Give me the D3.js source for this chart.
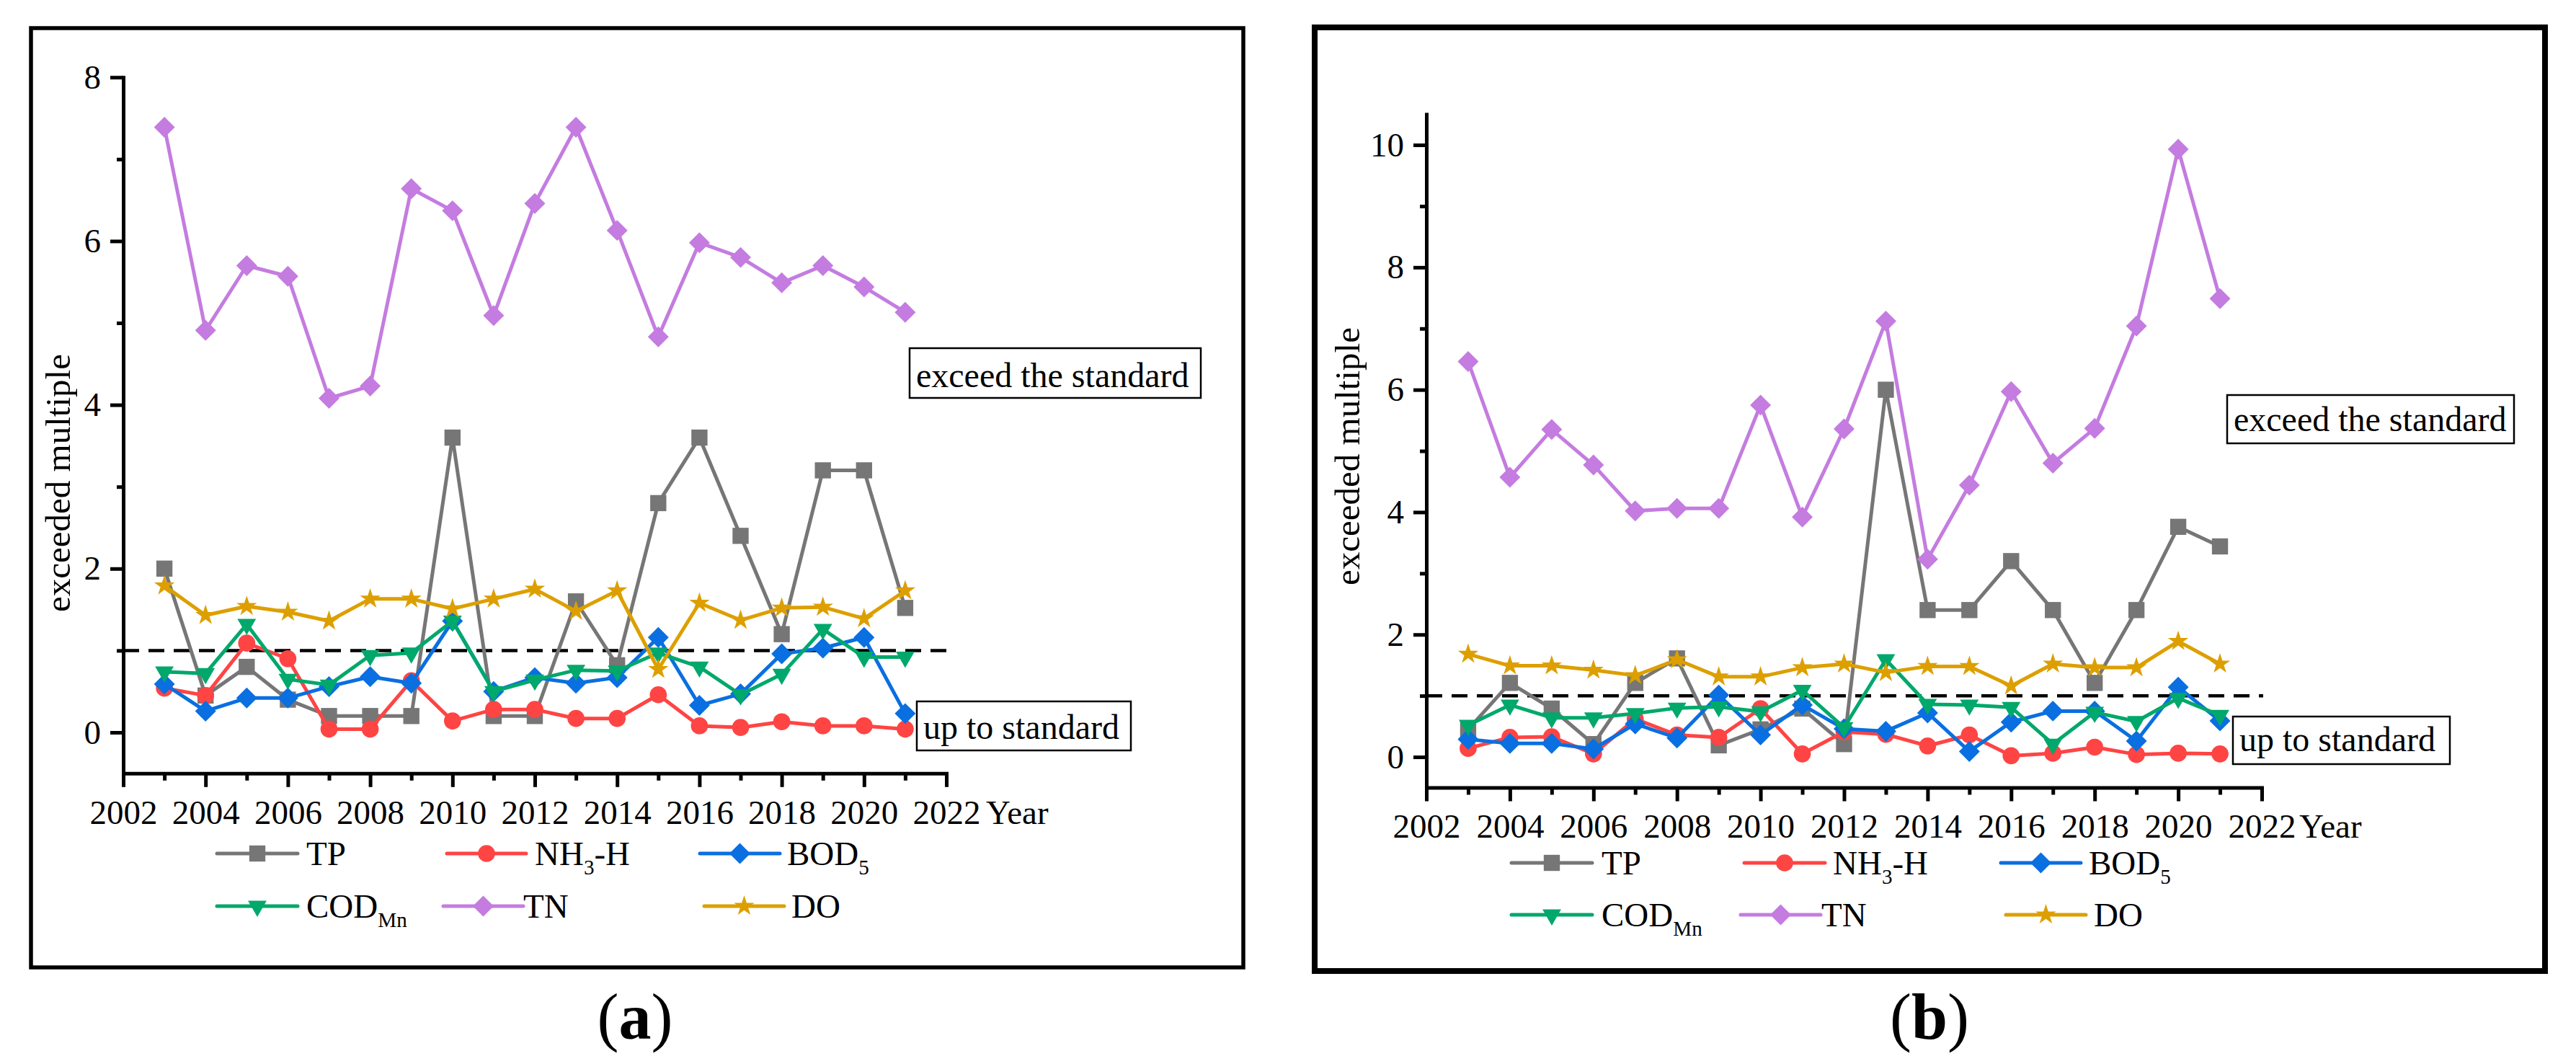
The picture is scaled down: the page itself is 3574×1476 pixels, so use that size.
<!DOCTYPE html>
<html>
<head>
<meta charset="utf-8">
<script src="https://cdn.jsdelivr.net/npm/d3@7"></script>
<style>
  body { margin: 0; background: #fff; }
  svg { display: block; }
  text { font-family: "Liberation Serif", "Times New Roman", serif !important; fill: #000; }
</style>
</head>
<body>
<svg id="chart" width="3574" height="1476"></svg>
<script>
// data
const years = [2003, 2004, 2005, 2006, 2007, 2008, 2009, 2010, 2011, 2012, 2013, 2014, 2015, 2016, 2017, 2018, 2019, 2020, 2021];

// panel (a)
const tpA  = [2.0, 0.45, 0.8, 0.4, 0.2, 0.2, 0.2, 3.6, 0.2, 0.2, 1.6, 0.82, 2.8, 3.6, 2.4, 1.2, 3.2, 3.2, 1.52];
const nh3A = [0.54, 0.45, 1.09, 0.9, 0.04, 0.04, 0.63, 0.14, 0.28, 0.28, 0.17, 0.17, 0.46, 0.08, 0.06, 0.13, 0.08, 0.08, 0.04];
const bodA = [0.59, 0.26, 0.42, 0.42, 0.56, 0.68, 0.6, 1.36, 0.5, 0.67, 0.6, 0.67, 1.16, 0.33, 0.47, 0.96, 1.03, 1.16, 0.23];
const codA = [0.74, 0.72, 1.32, 0.65, 0.58, 0.94, 0.97, 1.36, 0.5, 0.64, 0.76, 0.75, 0.97, 0.8, 0.46, 0.71, 1.26, 0.92, 0.92];
const tnA  = [7.39, 4.91, 5.7, 5.57, 4.08, 4.23, 6.64, 6.37, 5.09, 6.46, 7.39, 6.13, 4.83, 5.98, 5.8, 5.49, 5.7, 5.44, 5.13];
const doA  = [1.79, 1.43, 1.54, 1.47, 1.36, 1.63, 1.63, 1.51, 1.63, 1.75, 1.48, 1.73, 0.77, 1.58, 1.37, 1.52, 1.53, 1.39, 1.73];

// panel (b)
const tpB  = [0.45, 1.21, 0.79, 0.21, 1.21, 1.61, 0.19, 0.45, 0.79, 0.21, 6.0, 2.4, 2.4, 3.2, 2.4, 1.21, 2.4, 3.76, 3.44];
const nh3B = [0.14, 0.32, 0.33, 0.05, 0.62, 0.36, 0.32, 0.79, 0.05, 0.41, 0.37, 0.18, 0.36, 0.02, 0.06, 0.16, 0.04, 0.06, 0.05];
const bodB = [0.29, 0.22, 0.22, 0.13, 0.54, 0.31, 1.01, 0.36, 0.85, 0.46, 0.42, 0.72, 0.09, 0.57, 0.75, 0.75, 0.26, 1.14, 0.59];
const codB = [0.52, 0.85, 0.64, 0.64, 0.71, 0.8, 0.82, 0.74, 1.09, 0.48, 1.59, 0.86, 0.85, 0.81, 0.21, 0.73, 0.58, 0.96, 0.68];
const tnB  = [6.46, 4.57, 5.35, 4.77, 4.02, 4.06, 4.06, 5.75, 3.92, 5.36, 7.12, 3.23, 4.44, 5.97, 4.8, 5.37, 7.04, 9.93, 7.49];
const doB  = [1.68, 1.49, 1.49, 1.42, 1.33, 1.59, 1.31, 1.31, 1.46, 1.52, 1.38, 1.48, 1.48, 1.16, 1.52, 1.46, 1.46, 1.89, 1.52];

const xMajor = [2002, 2004, 2006, 2008, 2010, 2012, 2014, 2016, 2018, 2020, 2022];
const xMinor = [2003, 2005, 2007, 2009, 2011, 2013, 2015, 2017, 2019, 2021];
const yMajorA = [0, 2, 4, 6, 8];
const yMinorA = [1, 3, 5, 7];
const yMajorB = [0, 2, 4, 6, 8, 10];
const yMinorB = [1, 3, 5, 7, 9];
const standard = 1;

const names = ["TP", "NH3-H", "BOD5", "CODMn", "TN", "DO"];
const colors = ["#767676", "#ff4444", "#0a6fe0", "#00a86b", "#c47ce0", "#dd9f00"];

const svg = d3.select("#chart");
const FONT = 47;

// marker shapes
const symbols = {
  "TP":    { type: d3.symbolSquare, size: 500, rot: 0 },
  "NH3-H": { type: d3.symbolCircle, size: 440, rot: 0 },
  "BOD5":  { type: d3.symbolSquare, size: 420, rot: 45 },
  "CODMn": { type: d3.symbolTriangle, size: 290, rot: 180 },
  "TN":    { type: d3.symbolSquare, size: 420, rot: 45 },
  "DO":    { type: d3.symbolStar, size: 250, rot: 0 }
};

function labelText(sel, name) {
  // subscripts for chemical names
  const parts = {
    "TP": [["TP", 0]],
    "NH3-H": [["NH", 0], ["3", 1], ["-H", 0]],
    "BOD5": [["BOD", 0], ["5", 1]],
    "CODMn": [["COD", 0], ["Mn", 1]],
    "TN": [["TN", 0]],
    "DO": [["DO", 0]]
  }[name];
  parts.forEach(([t, sub], i) => {
    const ts = sel.append("tspan").text(t);
    if (sub) ts.attr("font-size", FONT * 0.62).attr("dy", 13);
    else if (i > 0) ts.attr("dy", -13);
  });
}

function drawPanel(p) {
  const g = svg.append("g");

  g.append("rect")
    .attr("x", p.box[0]).attr("y", p.box[1])
    .attr("width", p.box[2] - p.box[0]).attr("height", p.box[3] - p.box[1])
    .attr("fill", "none").attr("stroke", "#000").attr("stroke-width", p.boxW);

  const x = d3.scaleLinear().domain([2002, 2022]).range([p.x0, p.x1]);
  const y = d3.scaleLinear().domain(p.yDom).range(p.yRange);

  // standard line
  g.append("line")
    .attr("x1", x(2002)).attr("x2", x(2022) + 2)
    .attr("y1", y(standard)).attr("y2", y(standard))
    .attr("stroke", "#000").attr("stroke-width", 4.5)
    .attr("stroke-dasharray", "22 13");

  // axes
  g.append("g").attr("transform", `translate(0,${y(p.yDom[0])})`)
    .call(d3.axisBottom(x).tickValues(xMajor).tickSize(19).tickSizeOuter(0)
      .tickPadding(p.xPad).tickFormat(d3.format("d")));
  g.append("g").attr("transform", `translate(0,${y(p.yDom[0])})`)
    .call(d3.axisBottom(x).tickValues(xMinor).tickSize(10).tickFormat(""))
    .call(a => a.select(".domain").remove());

  g.append("g").attr("transform", `translate(${x(2002)},0)`)
    .call(d3.axisLeft(y).tickValues(p.yMajor).tickSize(18).tickSizeOuter(0)
      .tickPadding(13).tickFormat(d3.format("d")));
  g.append("g").attr("transform", `translate(${x(2002)},0)`)
    .call(d3.axisLeft(y).tickValues(p.yMinor).tickSize(9).tickFormat(""))
    .call(a => a.select(".domain").remove());

  g.selectAll(".domain").attr("stroke-width", 5).attr("stroke-linecap", "square");
  g.selectAll(".tick line").attr("stroke-width", 5);
  g.selectAll(".tick text").attr("font-size", FONT);

  g.append("text").attr("x", p.yearX).attr("y", y(p.yDom[0]) + p.xPad + 19 + FONT * 0.71)
    .attr("font-size", FONT).text("Year");

  g.append("text")
    .attr("transform", `translate(${p.titleX},${p.titleY}) rotate(-90)`)
    .attr("text-anchor", "middle").attr("dominant-baseline", "central")
    .attr("font-size", 49).text("exceeded multiple");

  // series
  const line = d3.line().x((d, i) => x(years[i])).y(d => y(d));
  p.series.forEach((vals, k) => {
    const s = symbols[names[k]];
    const sg = g.append("g");
    sg.append("path").datum(vals).attr("d", line)
      .attr("fill", "none").attr("stroke", colors[k]).attr("stroke-width", 5)
      .attr("stroke-linejoin", "round");
    sg.selectAll("path.m").data(vals).join("path").attr("class", "m")
      .attr("d", d3.symbol().type(s.type).size(s.size))
      .attr("transform", (d, i) => `translate(${x(years[i])},${y(d)}) rotate(${s.rot})`)
      .attr("fill", colors[k]);
  });

  // annotation boxes
  p.notes.forEach(n => {
    g.append("rect").attr("x", n.box[0]).attr("y", n.box[1])
      .attr("width", n.box[2] - n.box[0]).attr("height", n.box[3] - n.box[1])
      .attr("fill", "#fff").attr("stroke", "#000").attr("stroke-width", 2.5);
    g.append("text").attr("x", n.box[0] + 9).attr("y", n.base)
      .attr("font-size", 48).text(n.text);
  });

  // legend
  p.legend.forEach((L, k) => {
    const lg = g.append("g");
    lg.append("line").attr("x1", L[0]).attr("x2", L[1]).attr("y1", L[3]).attr("y2", L[3])
      .attr("stroke", colors[k]).attr("stroke-width", 5).attr("stroke-linecap", "round");
    const s = symbols[names[k]];
    lg.append("path").attr("d", d3.symbol().type(s.type).size(s.size))
      .attr("transform", `translate(${(L[0] + L[1]) / 2},${L[3]}) rotate(${s.rot})`)
      .attr("fill", colors[k]);
    const t = lg.append("text").attr("x", L[2]).attr("y", L[3] + 16).attr("font-size", FONT);
    labelText(t, names[k]);
  });

  const lab = g.append("text").attr("x", p.tag[0]).attr("y", p.tag[1])
    .attr("text-anchor", "middle").attr("font-size", 90);
  lab.append("tspan").text("(");
  lab.append("tspan").attr("font-weight", "bold").text(p.tagLetter);
  lab.append("tspan").text(")");
}

drawPanel({
  box: [43, 39, 1725, 1342], boxW: 5.5,
  x0: 171, x1: 1313,
  yDom: [-0.5, 8], yRange: [1072.8, 107.2],
  yMajor: yMajorA, yMinor: yMinorA,
  xPad: 18, yearX: 1368,
  titleX: 80, titleY: 670,
  series: [tpA, nh3A, bodA, codA, tnA, doA],
  notes: [
    { box: [1262, 483, 1666, 552], base: 537, text: "exceed the standard" },
    { box: [1272, 973, 1569, 1041], base: 1025, text: "up to standard" }
  ],
  legend: [
    [301, 413, 425, 1184], [620, 730, 742, 1184], [971, 1082, 1092, 1184],
    [301, 413, 425, 1257], [615, 726, 726, 1257], [977, 1088, 1098, 1257]
  ],
  tag: [881, 1441], tagLetter: "a"
});

drawPanel({
  box: [1824, 38, 3531, 1347], boxW: 8,
  x0: 1979, x1: 3138,
  yDom: [-0.5, 10.5], yRange: [1092.5, 158.6],
  yMajor: yMajorB, yMinor: yMinorB,
  xPad: 17, yearX: 3190,
  titleX: 1869, titleY: 633,
  series: [tpB, nh3B, bodB, codB, tnB, doB],
  notes: [
    { box: [3090, 548, 3488, 615], base: 598, text: "exceed the standard" },
    { box: [3098, 994, 3399, 1060], base: 1042, text: "up to standard" }
  ],
  legend: [
    [2097, 2209, 2222, 1197], [2420, 2532, 2543, 1197], [2776, 2887, 2898, 1197],
    [2097, 2209, 2222, 1269], [2415, 2526, 2527, 1269], [2783, 2894, 2905, 1269]
  ],
  tag: [2677, 1441], tagLetter: "b"
});
</script>
</body>
</html>
